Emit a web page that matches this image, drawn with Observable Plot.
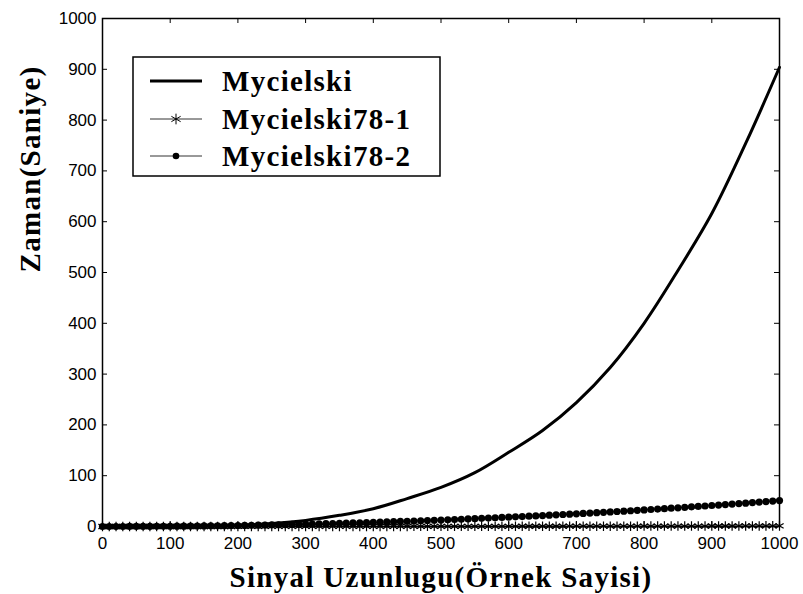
<!DOCTYPE html>
<html>
<head>
<meta charset="utf-8">
<script src="https://cdn.jsdelivr.net/npm/d3@7"></script>
<script src="https://cdn.jsdelivr.net/npm/@observablehq/plot@0.6"></script>
<style>
  html, body { margin: 0; padding: 0; background: white; }
</style>
</head>
<body>
<div id="chart"></div>
<script>
// ---- data ----
const seriesNames = ["Mycielski", "Mycielski78-1", "Mycielski78-2"];
const xTicks = [0, 100, 200, 300, 400, 500, 600, 700, 800, 900, 1000];
const yTicks = [0, 100, 200, 300, 400, 500, 600, 700, 800, 900, 1000];

// Mycielski (solid thick line), sampled every 50
const myX = [0, 50, 100, 150, 200, 250, 300, 350, 400, 450, 500, 550, 600, 650, 700, 750, 800, 850, 900, 950, 1000];
const myY = [0, 0, 0.3, 1, 2.5, 6, 12, 22, 35, 55, 77, 106, 146, 189, 244, 313, 400, 504, 616, 754, 904];

// Marker series sampled every 10 (0..1000)
const sampleX = d3.range(0, 1001, 10);
const m781 = [
  0, 0, 0, 0, 0, 0, 0, 0, 0, 0,
  0, 0, 0, 0, 0, 0, 0, 0, 0, 0,
  0.1, 0.1, 0.1, 0.1, 0.1, 0.1, 0.1, 0.1, 0.1, 0.1,
  0.1, 0.1, 0.1, 0.1, 0.1, 0.2, 0.2, 0.2, 0.2, 0.2,
  0.2, 0.2, 0.2, 0.2, 0.2, 0.2, 0.3, 0.3, 0.3, 0.3,
  0.3, 0.3, 0.3, 0.3, 0.3, 0.4, 0.4, 0.4, 0.4, 0.4,
  0.4, 0.4, 0.5, 0.5, 0.5, 0.5, 0.5, 0.5, 0.5, 0.6,
  0.6, 0.6, 0.6, 0.6, 0.6, 0.7, 0.7, 0.7, 0.7, 0.7,
  0.8, 0.8, 0.8, 0.8, 0.8, 0.9, 0.9, 0.9, 0.9, 0.9,
  1.0, 1.0, 1.0, 1.0, 1.1, 1.1, 1.1, 1.1, 1.2, 1.2,
  1.2
];
const m782 = [
  0, 0, 0, 0, 0.1, 0.1, 0.2, 0.2, 0.3, 0.4,
  0.5, 0.6, 0.7, 0.9, 1.0, 1.1, 1.3, 1.5, 1.7, 1.8,
  2.0, 2.2, 2.5, 2.7, 2.9, 3.2, 3.4, 3.7, 4.0, 4.3,
  4.6, 4.9, 5.2, 5.6, 5.9, 6.2, 6.6, 7.0, 7.4, 7.8,
  8.2, 8.6, 9.0, 9.4, 9.9, 10.3, 10.8, 11.3, 11.8, 12.3,
  12.8, 13.3, 13.8, 14.3, 14.9, 15.4, 16.0, 16.6, 17.2, 17.8,
  18.4, 19.0, 19.6, 20.3, 20.9, 21.6, 22.2, 22.9, 23.6, 24.3,
  25.0, 25.7, 26.4, 27.2, 27.9, 28.7, 29.5, 30.2, 31.0, 31.8,
  32.6, 33.5, 34.3, 35.1, 36.0, 36.8, 37.7, 38.6, 39.5, 40.4,
  41.3, 42.2, 43.2, 44.1, 45.1, 46.0, 47.0, 48.0, 49.0, 50.0,
  51.0
];

const xLabel = "Sinyal Uzunlugu(Örnek Sayisi)";
const yLabel = "Zaman(Saniye)";

// ---- build tables ----
const myData = myX.map((x, i) => ({x, y: myY[i]}));
const s1 = sampleX.map((x, i) => ({x, y: m781[i]}));
const s2 = sampleX.map((x, i) => ({x, y: m782[i]}));

const W = 803, H = 594;
const mL = 102, mR = 24, mT = 18, mB = 68;
const tickFont = "'Liberation Sans', Arial, sans-serif";
const titleFont = "'Liberation Serif', 'Times New Roman', serif";
const titleSize = 29;
const titleSpacing = "1.3px";
const tickPx = 5;
const pxPerX = (W - mL - mR) / 1000;
const pxPerY = (H - mT - mB) / 1000;

const chart = Plot.plot({
  width: W, height: H,
  marginLeft: mL, marginRight: mR, marginTop: mT, marginBottom: mB,
  x: {domain: [0, 1000]},
  y: {domain: [0, 1000]},
  style: {fontFamily: tickFont, fontSize: "17px", background: "white", color: "black", overflow: "visible"},
  marks: [
    Plot.axisX(xTicks, {tickSize: 0, tickPadding: 10, label: null, fontSize: 17, tickFormat: d => String(d)}),
    Plot.axisY(yTicks, {tickSize: 0, tickPadding: 6, label: null, fontSize: 17, tickFormat: d => String(d)}),
    // inward ticks on all four sides
    Plot.ruleX(xTicks, {x: d => d, y1: 0, y2: tickPx / pxPerY, stroke: "black", strokeWidth: 1}),
    Plot.ruleX(xTicks, {x: d => d, y1: 1000 - tickPx / pxPerY, y2: 1000, stroke: "black", strokeWidth: 1}),
    Plot.ruleY(yTicks, {y: d => d, x1: 0, x2: tickPx / pxPerX, stroke: "black", strokeWidth: 1}),
    Plot.ruleY(yTicks, {y: d => d, x1: 1000 - tickPx / pxPerX, x2: 1000, stroke: "black", strokeWidth: 1}),
    // series
    Plot.line(s1, {x: "x", y: "y", stroke: "#222", strokeWidth: 1}),
    Plot.dot(s1, {x: "x", y: "y", symbol: "asterisk", r: 4.5, stroke: "black", strokeWidth: 1.2}),
    Plot.line(s2, {x: "x", y: "y", stroke: "#222", strokeWidth: 1}),
    Plot.dot(s2, {x: "x", y: "y", symbol: "circle", r: 3.6, fill: "black", stroke: "none"}),
    Plot.line(myData, {x: "x", y: "y", stroke: "black", strokeWidth: 3, curve: "catmull-rom"}),
    Plot.frame({stroke: "black", strokeWidth: 1.5}),
    // axis titles
    Plot.text([xLabel], {text: d => d, frameAnchor: "bottom", dy: 51, fontFamily: titleFont, fontWeight: "bold", fontSize: titleSize, lineAnchor: "middle"}),
    Plot.text([yLabel], {text: d => d, frameAnchor: "left", dx: -72, rotate: -90, fontFamily: titleFont, fontWeight: "bold", fontSize: titleSize, lineAnchor: "middle"})
  ]
});

// ---- legend ----
const svg = d3.select(chart);
svg.selectAll("g[aria-label='text'] text").style("letter-spacing", titleSpacing);
const lg = svg.append("g").attr("text-anchor", "start");
const box = {x: 133, y: 57, w: 307, h: 119};
lg.append("rect").attr("x", box.x).attr("y", box.y).attr("width", box.w).attr("height", box.h)
  .attr("fill", "white").attr("stroke", "black").attr("stroke-width", 1.5);
const rowsY = [81, 119, 156];
seriesNames.forEach((name, i) => {
  const y = rowsY[i];
  lg.append("line").attr("x1", 150).attr("x2", 202).attr("y1", y).attr("y2", y)
    .attr("stroke", i === 0 ? "black" : "#333").attr("stroke-width", i === 0 ? 3 : 1);
  if (i === 1) {
    const s = d3.symbol(d3.symbolAsterisk, 80)();
    lg.append("path").attr("d", s).attr("transform", `translate(176,${y})`).attr("stroke", "black").attr("fill", "none");
  } else if (i === 2) {
    lg.append("circle").attr("cx", 176).attr("cy", y).attr("r", 3.3).attr("fill", "black");
  }
  lg.append("text").attr("x", 222).attr("y", y).attr("dy", "0.35em")
    .attr("text-anchor", "start")
    .attr("font-family", titleFont).attr("font-weight", "bold").attr("font-size", titleSize)
    .style("letter-spacing", titleSpacing)
    .attr("fill", "black").text(name);
});

document.getElementById("chart").appendChild(chart);
</script>
</body>
</html>
